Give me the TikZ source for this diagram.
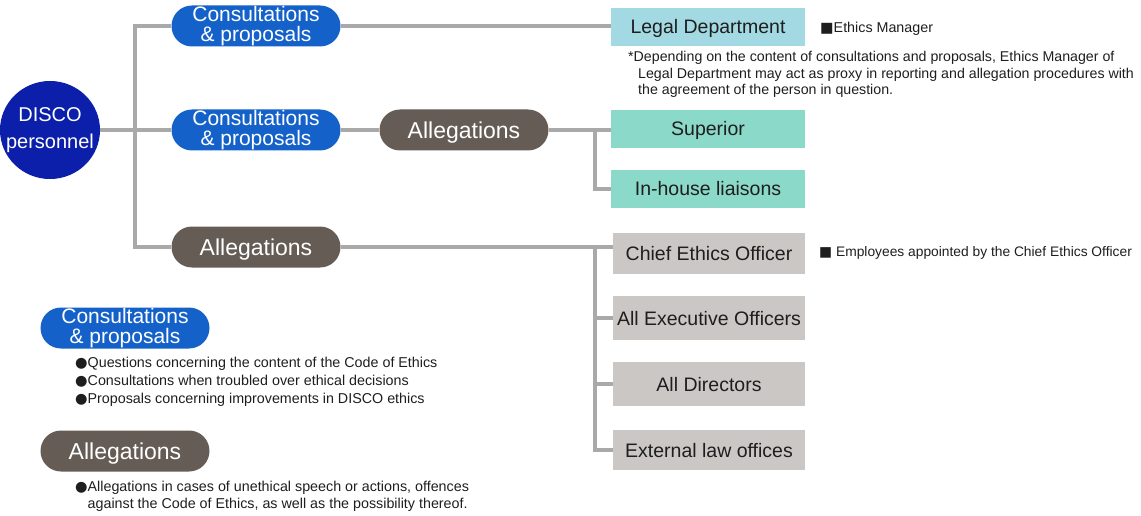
\documentclass[tikz,border=0pt]{standalone}
\usepackage{fontspec}
\setmainfont{Liberation Sans}
\newfontfamily\glyphs{DejaVu Sans}
\usetikzlibrary{shapes.geometric}
\definecolor{discoblue}{HTML}{0B1FAA}
\definecolor{cpblue}{HTML}{1462C9}
\definecolor{algray}{HTML}{645C55}
\definecolor{legalcyan}{HTML}{A2D9E2}
\definecolor{mint}{HTML}{8BD9C9}
\definecolor{deskgray}{HTML}{CBC7C5}
\definecolor{wire}{HTML}{A9A9A9}
\definecolor{ink}{HTML}{1E1E1E}
\newcommand{\blt}{{\glyphs\char"25CF}}
\newcommand{\sqm}{{\glyphs\char"25A0}}
\begin{document}
\begin{tikzpicture}[x=1pt, y=-1pt]
    \tikzstyle{conn}=[draw=wire, line width=4pt]
    \tikzstyle{pill}=[minimum width=169pt, minimum height=41pt, rounded corners=20.5pt, text=white, align=center, inner sep=0pt]
    \tikzstyle{cpill}=[pill, fill=cpblue, font=\fontsize{21}{19.5}\selectfont]
    \tikzstyle{apill}=[pill, fill=algray, text height=16.5pt, text depth=0pt, font=\fontsize{23}{24}\selectfont]
    \tikzstyle{desk}=[minimum width=194pt, minimum height=38pt, inner sep=0pt, text=ink, text height=14pt, text depth=0pt, font=\fontsize{19.5}{20}\selectfont]
    \tikzstyle{remark}=[anchor=west, align=left, inner sep=0pt, text=ink, font=\fontsize{14.3}{17}\selectfont]
    \useasboundingbox (0,0) rectangle (1141,516);
    \coordinate (trunk) at (135,0);
    \coordinate (fork) at (595,0);
    \node[ellipse, fill=discoblue, minimum width=100pt, minimum height=98pt, inner sep=0pt,
      label={[align=center, text=white, font=\fontsize{20}{27}\selectfont]center:DISCO\\personnel}] (disco) at (50,130) {};
    \node[cpill] (cp1) at (256,26) {Consultations\\\& proposals};
    \node[cpill] (cp2) at (256,130) {Consultations\\\& proposals};
    \node[apill] (al2) at (464,130) {Allegations};
    \node[apill] (al3) at (256,247) {Allegations};
    \node[desk, fill=legalcyan] (legal) at (708,27) {Legal Department};
    \node[desk, fill=mint] (sup) at (708,129) {Superior};
    \node[desk, fill=mint] (inh) at (708,189) {In-house liaisons};
    \node[desk, fill=deskgray, minimum width=192pt, minimum height=41pt] (chief) at (709,253) {Chief Ethics Officer};
    \node[desk, fill=deskgray, minimum width=192pt, minimum height=44pt] (exe) at (709,318) {All Executive Officers};
    \node[desk, fill=deskgray, minimum width=192pt, minimum height=44pt] (dir) at (709,384) {All Directors};
    \node[desk, fill=deskgray, minimum width=192pt, minimum height=40pt] (ext) at (709,450) {External law offices};
    % remarks beside the desks
    \node[remark] (ethman) at (820,29) {\sqm Ethics Manager};
    \node[remark, font=\fontsize{14.2}{16.5}\selectfont] (proxy) at (628,74.5) {*Depending on the content of consultations and proposals, Ethics Manager of\\\hspace*{10pt}Legal Department may act as proxy in reporting and allegation procedures with\\\hspace*{10pt}the agreement of the person in question.};
    \node[remark, font=\fontsize{13.8}{17}\selectfont] (appoint) at (819,253) {\sqm\ Employees appointed by the Chief Ethics Officer};
    % legend
    \node[cpill] (keycp) at (125,328) {Consultations\\\& proposals};
    \node[remark, font=\fontsize{14.3}{18}\selectfont] (keycptext) at (75,382) {\blt Questions concerning the content of the Code of Ethics\\\blt Consultations when troubled over ethical decisions\\\blt Proposals concerning improvements in DISCO ethics};
    \node[apill] (keyal) at (125,451) {Allegations};
    \node[remark] (keyaltext) at (75,496.5) {\blt Allegations in cases of unethical speech or actions, offences\\\phantom{\blt}against the Code of Ethics, as well as the possibility thereof.};
    % connectors
    \draw[conn] (disco.east) -- (cp2.west);
    \draw[conn] (cp1.west) -| (trunk |- al3.west) -- (al3.west);
    \draw[conn] (cp1.east) -- (cp1.east -| legal.west);
    \draw[conn] (cp2.east) -- (al2.west);
    \draw[conn] (al2.east) -- (al2.east -| sup.west);
    \draw[conn] (al2.east -| fork) |- (inh.west);
    \draw[conn] (al3.east) -- (al3.east -| chief.west);
    \draw[conn] (al3.east -| fork) |- (ext.west);
    \foreach \d in {exe,dir}
      \draw[conn] (fork |- \d.west) -- (\d.west);
\end{tikzpicture}
\end{document}
